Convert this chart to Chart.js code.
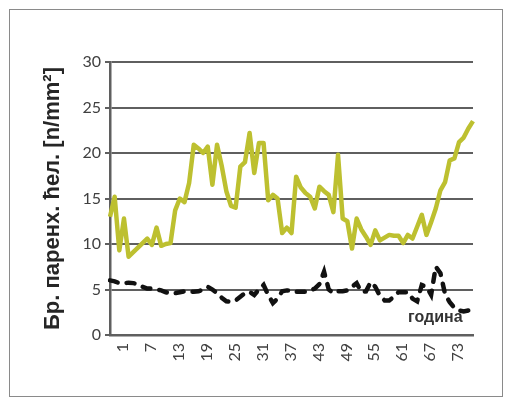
<!DOCTYPE html>
<html>
<head>
<meta charset="utf-8">
<script src="https://cdn.jsdelivr.net/npm/chart.js@4.4.0/dist/chart.umd.min.js"></script>
<style>
html,body{margin:0;padding:0;background:#fff;}
canvas{display:block;}
</style>
</head>
<body>
<canvas id="c" width="512" height="404"></canvas>
<script>
const categories = Array.from({length: 79}, (_, i) => String(i + 1));
const tickLabels = ['1','7','13','19','25','31','37','43','49','55','61','67','73'];
const yTicks = [0, 5, 10, 15, 20, 25, 30];

const seriesGreen = [
  13.0, 15.2, 9.3, 12.8, 8.6, 9.1, 9.6, 10.1, 10.6, 9.9,
  11.8, 9.8, 10.0, 10.1, 13.7, 15.0, 14.6, 16.7, 20.9, 20.5,
  20.0, 20.7, 16.5, 20.9, 18.6, 15.8, 14.2, 14.0, 18.5, 19.0,
  22.2, 17.8, 21.1, 21.1, 14.8, 15.4, 15.0, 11.2, 11.8, 11.2,
  17.4, 16.2, 15.6, 15.2, 13.9, 16.3, 15.8, 15.4, 13.5, 19.8,
  12.8, 12.5, 9.5, 12.8, 11.6, 10.8, 9.9, 11.5, 10.4, 10.7,
  11.0, 10.9, 10.9, 10.1, 11.0, 10.6, 11.9, 13.2, 11.0, 12.4,
  13.9, 15.9, 16.8, 19.2, 19.4, 21.2, 21.7, 22.7, 23.5
];
const seriesBlack = [
  6.0, 5.9, 5.7, 5.7, 5.75, 5.7, 5.6, 5.3, 5.1, 5.1,
  5.0, 4.9, 4.7, 4.6, 4.6, 4.7, 4.8, 4.8, 4.75, 4.8,
  5.0, 5.3, 5.0, 4.6, 4.1, 3.7, 3.65, 3.8, 4.2, 4.6,
  4.75, 4.4, 5.0, 5.5, 4.4, 3.5, 4.0, 4.8, 4.9, 4.9,
  4.75, 4.75, 4.75, 4.9, 5.1, 5.6, 6.95, 5.0, 4.6, 4.8,
  4.8, 4.9, 5.3, 5.7, 4.75, 4.8, 5.8, 5.3, 4.3, 3.8,
  3.8, 4.2, 4.7, 4.7, 4.7, 4.0, 3.7, 5.5, 5.3, 4.4,
  7.5, 6.8, 4.5, 3.6, 3.0, 2.7, 2.6, 2.7, 2.7
];

const yTitle = 'Бр. паренх. ћел. [n/mm²]';
const xTitle = 'година';

const frame = {
  id: 'frame',
  beforeDraw(chart) {
    const ctx = chart.ctx;
    ctx.save();
    ctx.fillStyle = '#fff';
    ctx.fillRect(0, 0, chart.width, chart.height);
    ctx.strokeStyle = '#8a8a8a';
    ctx.lineWidth = 1;
    ctx.strokeRect(9.5, 9.5, 493, 387);
    ctx.restore();
  },
  beforeDatasetsDraw(chart) {
    const ctx = chart.ctx;
    const a = chart.chartArea;
    ctx.save();
    ctx.font = 'bold 16px "Liberation Sans", Arial, sans-serif';
    ctx.fillStyle = '#333333';
    ctx.textBaseline = 'alphabetic';
    ctx.textAlign = 'left';
    ctx.fillText(xTitle, a.right - 65, a.bottom - 13);
    ctx.restore();
  }
};

new Chart(document.getElementById('c'), {
  type: 'line',
  data: {
    labels: categories,
    datasets: [
      {
        data: seriesGreen,
        borderColor: '#BDC030',
        borderWidth: 4.5,
        pointRadius: 0,
        tension: 0,
        fill: false,
        borderJoinStyle: 'round'
      },
      {
        data: seriesBlack,
        borderColor: '#111111',
        borderWidth: 4.5,
        borderDash: [8, 9],
        borderCapStyle: 'round',
        pointRadius: 0,
        tension: 0,
        fill: false
      }
    ]
  },
  plugins: [frame],
  options: {
    responsive: false,
    animation: false,
    devicePixelRatio: 1,
    layout: { padding: { left: 40, top: 62, right: 39, bottom: 0 } },
    plugins: { legend: { display: false }, tooltip: { enabled: false } },
    scales: {
      x: {
        type: 'category',
        offset: false,
        afterFit(s) { s.height = 69; },
        grid: { display: false, drawTicks: false },
        border: { display: true, color: '#5f5f5f', width: 2.5 },
        ticks: {
          autoSkip: false,
          minRotation: 90,
          maxRotation: 90,
          padding: 8,
          labelOffset: 13,
          color: '#404040',
          font: { family: 'Lato, "Noto Sans", sans-serif', size: 16 },
          callback(v, i) {
            const l = categories[i];
            return tickLabels.includes(l) ? l : '';
          }
        }
      },
      y: {
        min: 0,
        max: 30,
        afterFit(s) { s.width = 70; },
        afterBuildTicks(s) { s.ticks = yTicks.map(v => ({ value: v })); },
        grid: { color: '#5f5f5f', lineWidth: 2, drawTicks: true, tickLength: 5 },
        border: { display: true, color: '#5f5f5f', width: 2.5 },
        ticks: {
          padding: 4,
          color: '#404040',
          font: { family: 'Lato, "Noto Sans", sans-serif', size: 16 }
        },
        title: {
          display: true,
          text: yTitle,
          color: '#262626',
          padding: { top: 0, bottom: 0 },
          font: { family: '"Liberation Sans", Arial, sans-serif', size: 22, weight: 'bold' }
        }
      }
    }
  }
});
</script>
</body>
</html>
